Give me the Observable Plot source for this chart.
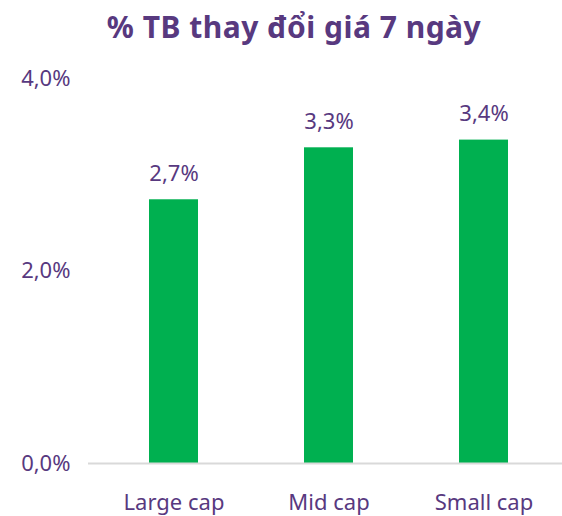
<!DOCTYPE html>
<html>
<head>
<meta charset="utf-8">
<script src="https://cdn.jsdelivr.net/npm/d3@7"></script>
<script src="https://cdn.jsdelivr.net/npm/@observablehq/plot@0.6"></script>
<style>
  html, body { margin: 0; padding: 0; background: #fff; }
  #title { height: 52px; line-height: 54px; font-family: "Noto Sans", sans-serif; font-weight: 700; font-size: 30px; letter-spacing: 0.5px; color: #58397f; text-align: center; padding-left: 26px; box-sizing: border-box; width: 562px; white-space: nowrap; }
  svg { display: block; }
</style>
</head>
<body>
<div id="title">% TB thay đổi giá 7 ngày</div>
<div id="chart"></div>
<script>
const categories = ["Large cap", "Mid cap", "Small cap"];
const values = [2.74, 3.28, 3.36];
const yTicks = [0, 2, 4];

const data = categories.map((c, i) => ({category: c, value: values[i]}));
const fmt = d => d.toFixed(1).replace(".", ",") + "%";
const textColor = "#58397f";

const chart = Plot.plot({
  width: 562,
  height: 464,
  marginLeft: 95,
  marginRight: 0,
  marginTop: 26,
  marginBottom: 53,
  style: {fontFamily: "Noto Sans, sans-serif", fontSize: "22px", color: textColor, background: "#fff"},
  x: {domain: categories, paddingInner: 0.684, paddingOuter: 0.34, label: null},
  y: {domain: [0, 4], ticks: yTicks, label: null},
  marks: [
    Plot.barY(data, {x: "category", y: "value", fill: "#00b050"}),
    Plot.ruleY([0], {stroke: "#d9d9d9", strokeWidth: 2, insetLeft: -7}),
    Plot.text(data, {x: "category", y: "value", text: d => fmt(d.value), dy: -26, fill: textColor, fontSize: 22}),
    Plot.axisY({ticks: yTicks, tickFormat: fmt, tickSize: 0, tickPadding: 25, fontSize: 22, fill: textColor}),
    Plot.axisX({tickSize: 0, tickPadding: 31, fontSize: 22, fill: textColor})
  ]
});
document.getElementById("chart").appendChild(chart);
</script>
</body>
</html>
